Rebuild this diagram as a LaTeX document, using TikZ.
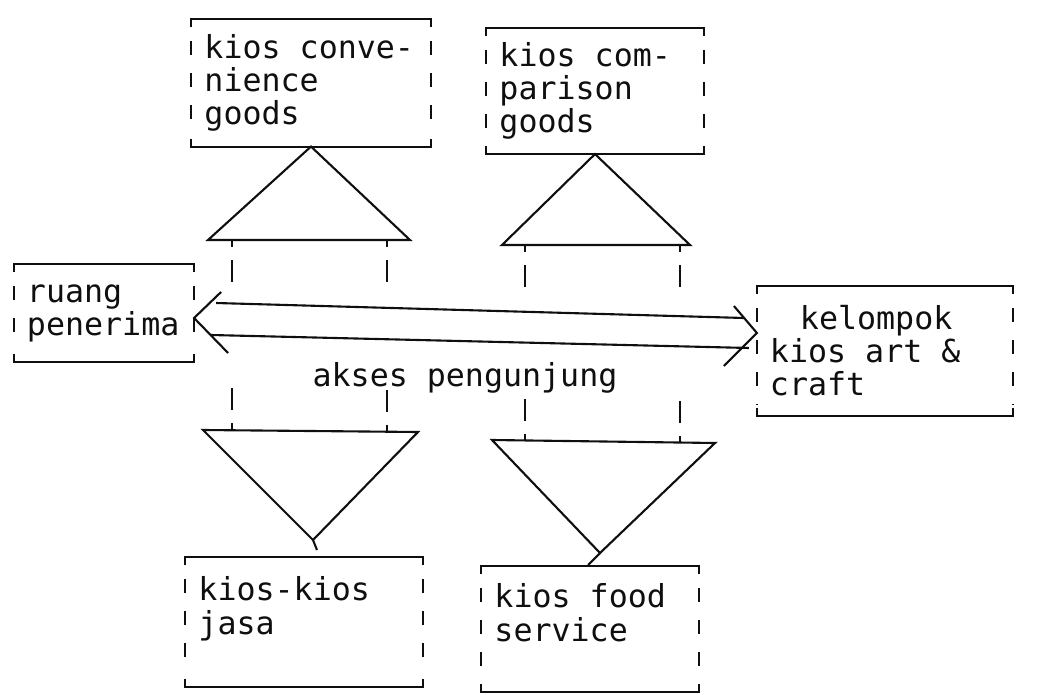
\documentclass[tikz,border=0pt]{standalone}
\usepackage{fontspec}
\setmonofont{DejaVu Sans Mono}
\usepackage{tikz}
\definecolor{Ct}{RGB}{15,15,15}
\newcommand\rapat{\spaceskip=0pt\xspaceskip=0pt\relax}

\begin{document}
\begin{tikzpicture}[x=0.025cm,y=-0.025cm,line width=1.5pt,Ct,
    kios/.style 2 args={inner xsep=0.3cm,inner ysep=0pt,text width=#1,minimum height=#2,
      align=left,font=\ttfamily\fontsize{22.5}{23.5}\selectfont,text=Ct},
    sisi/.style={dash pattern=on 0.35cm off 0.45cm},
    tiang/.style={dash pattern=on 0.175cm off 0.325cm on 0.55cm}]
    \useasboundingbox (0,0) rectangle (1039,695);
    \node[kios={5.325cm}{3.125cm}] (conv) at (311,83) {\rapat kios conve-\\nience\\goods};
    \node[kios={4.775cm}{3.1cm}] (comp) at (595,91) {\rapat kios com-\\parison\\goods};
    \node[kios={3.85cm}{2.375cm}] (terima) at (104,313) {\rapat ruang\\penerima};
    \node[kios={5.75cm}{3.2cm}] (art) at (885,351) {\rapat\hspace*{0.75cm}kelompok\\kios art \&\\craft};
    \node[kios={5.275cm}{3.175cm}] (jasa) at (304,622) {\rapat kios-kios\\jasa\\\mbox{}};
    \node[kios={4.775cm}{3.1cm}] (food) at (590,629) {\rapat kios food\\service\\\mbox{}};
    \node[font=\ttfamily\fontsize{22.5}{22}\selectfont] (akses) at (465,378) {akses pengunjung};
    \foreach \k in {conv,comp,terima,art,jasa,food}{
      \draw ([yshift=-0.2cm]\k.north west) -- (\k.north west) -- (\k.north east) -- ([yshift=-0.2cm]\k.north east);
      \draw ([yshift=0.2cm]\k.south west) -- (\k.south west) -- (\k.south east) -- ([yshift=0.2cm]\k.south east);
      \draw[sisi] ([yshift=-0.55cm]\k.north west) -- ([yshift=0.3cm]\k.south west);
      \draw[sisi] ([yshift=-0.55cm]\k.north east) -- ([yshift=0.3cm]\k.south east);
    }
    % segitiga atas dan bawah
    \coordinate (aL) at (208,240); \coordinate (aR) at (410,240);
    \coordinate (bL) at (502,245); \coordinate (bR) at (690,245);
    \coordinate (eL) at (203,430); \coordinate (eR) at (418,432); \coordinate (eP) at (313,540);
    \coordinate (fL) at (492,440); \coordinate (fR) at (715,443); \coordinate (fP) at (600,553);
    \draw (aL) -- (conv.south) -- (aR) -- cycle;
    \draw (bL) -- (comp.south) -- (bR) -- cycle;
    \draw (eL) -- (eP) -- (eR) -- cycle;
    \draw (eP) -- ++(4,10);
    \draw (fL) -- (fP) -- (fR) -- cycle;
    \draw (fP) -- ++(-12,12);
    \foreach \x/\y in {232/240,387/240,525/245,680/245}
      \draw[tiang] (\x,\y) -- (\x,\y+45);
    \foreach \x/\y in {232/430,387/432,525/441,680/443}
      \draw[tiang] (\x,\y) -- (\x,\y-45);
    % akses pengunjung
    \coordinate (kiri) at ([yshift=-0.125cm]terima.east);
    \coordinate (kanan) at ([yshift=0.45cm]art.west);
    \draw ([shift={(27,-26)}]kiri) -- (kiri) -- ([shift={(34,35)}]kiri);
    \draw ([shift={(-23,-27)}]kanan) -- (kanan) -- ([shift={(-33,33)}]kanan);
    \draw ([shift={(22,-15)}]kiri) -- ([shift={(-13,-15)}]kanan);
    \draw ([shift={(17,17)}]kiri) -- ([shift={(-8,15)}]kanan);
  \end{tikzpicture}
\end{document}
